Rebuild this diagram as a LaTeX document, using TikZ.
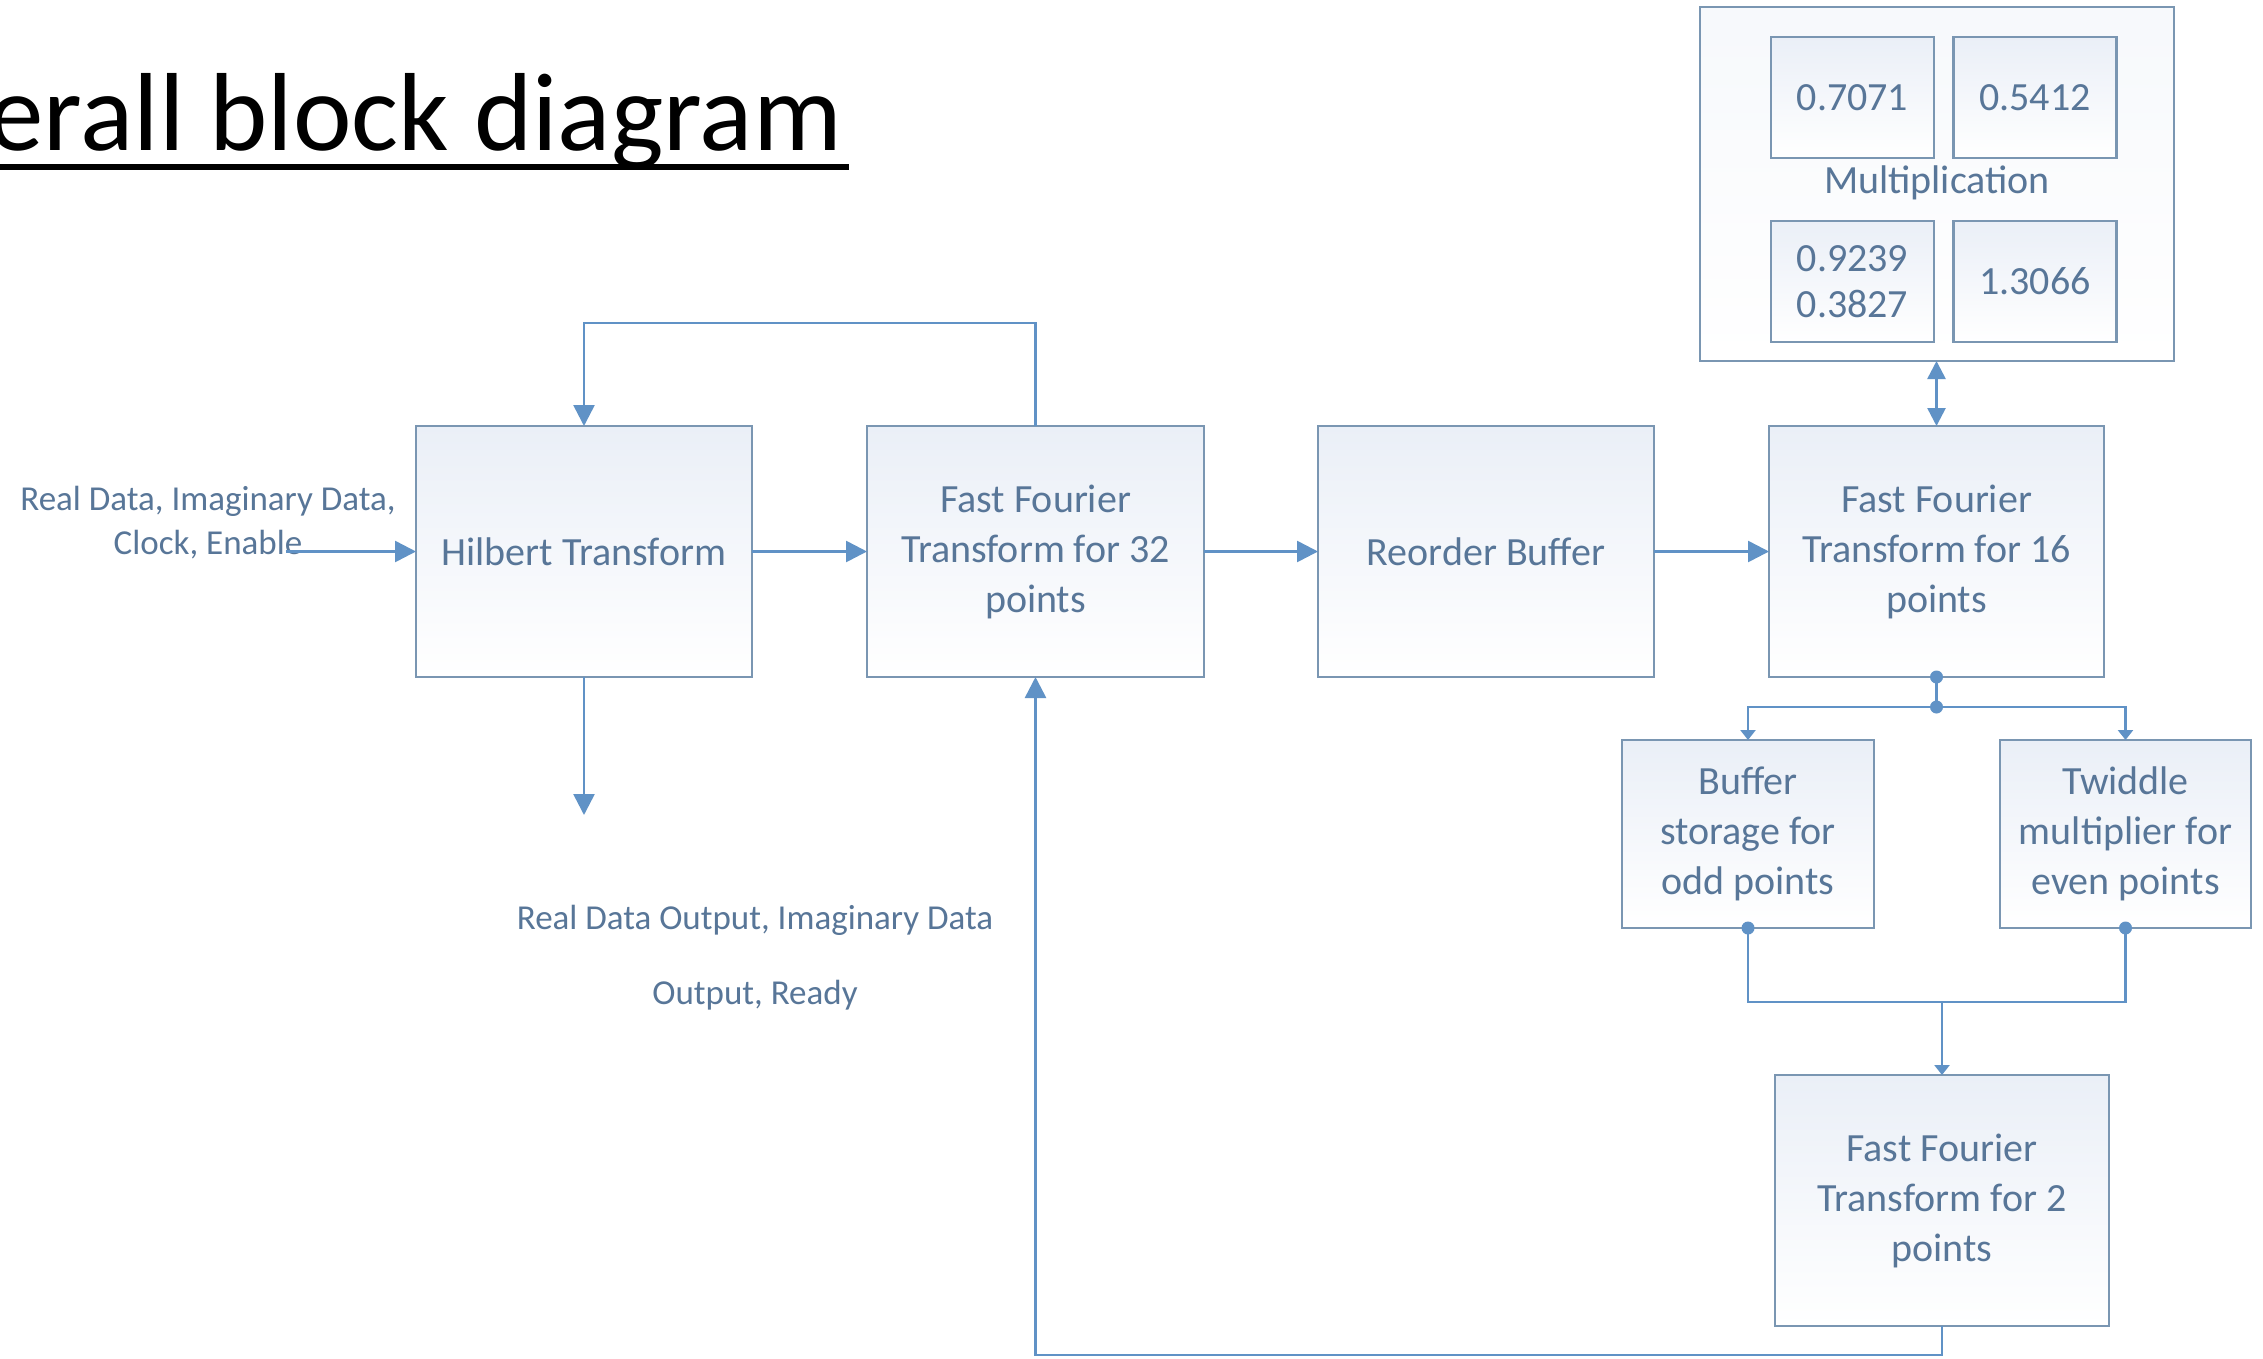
\documentclass[tikz,border=0pt]{standalone}
\usepackage{fontspec}
\setmainfont{Carlito}
\usetikzlibrary{arrows.meta,calc}
\definecolor{linecol}{RGB}{96,146,198}
\definecolor{boxcol}{RGB}{122,150,178}
\definecolor{txtcol}{RGB}{88,118,152}
\definecolor{shadecol}{RGB}{234,239,247}
\begin{document}
\begin{tikzpicture}[x=1pt,y=-1pt,
  blk/.style={draw=boxcol, line width=2.6pt, top color=shadecol, bottom color=white,
    inner sep=0pt, outer sep=0pt, align=center, text=txtcol,
    font=\fontsize{40}{50}\selectfont},
  numbox/.style={blk, minimum width=163pt, minimum height=121pt, font=\fontsize{40}{46}\selectfont},
  conn/.style={draw=linecol, line width=2.6pt},
  bigtip/.style={-{Triangle[length=21pt,width=21pt]}},
  smalltip/.style={-{Triangle[length=10pt,width=15pt]}},
  lbl/.style={text=txtcol, align=center, inner sep=0pt, font=\fontsize{35}{44}\selectfont},
  dot/.style={fill=linecol}
]
\fill[white] (0,0) rectangle (2263,1358);
\useasboundingbox (0,0) rectangle (2263,1358);

% title
\node[anchor=base east, inner sep=0pt, font=\fontsize{111}{111}\selectfont] (title) at (842,150) {erall block diagram};
\draw[line width=6.5pt] (0,167) -- (849,167);

% main boxes
\node[blk, minimum width=336pt, minimum height=251pt] (hil) at (584,551.5) {Hilbert Transform};
\node[blk, minimum width=337pt, minimum height=251pt] (fft32) at (1035.5,551.5) {Fast Fourier\\Transform for 32\\points};
\node[blk, minimum width=336pt, minimum height=251pt] (reo) at (1486,551.5) {Reorder Buffer};
\node[blk, minimum width=335pt, minimum height=251pt] (fft16) at (1936.5,551.5) {Fast Fourier\\Transform for 16\\points};

% multiplication block
\node[blk, top color=white!60!shadecol, minimum width=474pt, minimum height=354pt] (mult) at (1937,184) {};
\node[numbox] (m1) at (1852.5,97.5) {0.7071};
\node[numbox] (m2) at (2035,97.5) {0.5412};
\node[numbox] (m3) at (1852.5,281.5) {0.9239\\0.3827};
\node[numbox] (m4) at (2035,281.5) {1.3066};
\node[text=txtcol, inner sep=0pt, font=\fontsize{40}{50}\selectfont] (multlbl) at (1937,183) {Multiplication};

% lower boxes
\node[blk, minimum width=252pt, minimum height=188pt] (buf) at (1748,834) {Buffer\\storage for\\odd points};
\node[blk, minimum width=251pt, minimum height=188pt] (twd) at (2125.5,834) {Twiddle\\multiplier for\\even points};
\node[blk, minimum width=334pt, minimum height=251pt] (fft2) at (1942,1200.5) {Fast Fourier\\Transform for 2\\points};

% labels
\node[lbl] (intxt) at (208,523) {Real Data, Imaginary Data,\\Clock, Enable};
\node[lbl, font=\fontsize{35}{75}\selectfont] (outtxt) at (755,958) {Real Data Output, Imaginary Data\\Output, Ready};

% coordinates
\coordinate (instart) at (286,551.5);
\coordinate (outend) at (584,815);
\coordinate (sp) at (1936.5,707);
\coordinate (mg) at (1942,1002);

% connectors
\draw[conn,bigtip] (instart) -- (hil.west);
\draw[conn,bigtip] (hil.east) -- (fft32.west);
\draw[conn,bigtip] (fft32.east) -- (reo.west);
\draw[conn,bigtip] (reo.east) -- (fft16.west);
\draw[conn,bigtip] (fft32.north) -- ++(0,-103) -| (hil.north);
\draw[conn,bigtip] (hil.south) -- (outend);
\draw[conn,{Triangle[length=18pt,width=18pt]}-{Triangle[length=18pt,width=18pt]}] (mult.south -| fft16.north) -- (fft16.north);
\draw[conn] (fft16.south) -- (sp);
\draw[conn,smalltip] (sp) -| (buf.north);
\draw[conn,smalltip] (sp) -| (twd.north);
\draw[conn] (buf.south) |- (mg) -| (twd.south);
\draw[conn,smalltip] (mg) -- (fft2.north);
\draw[conn,bigtip] (fft2.south) -- ++(0,29) -| (fft32.south);

% dots
\fill[dot] (fft16.south) circle (6.5pt);
\fill[dot] (sp) circle (6.5pt);
\fill[dot] (buf.south) circle (6.5pt);
\fill[dot] (twd.south) circle (6.5pt);
\end{tikzpicture}
\end{document}
